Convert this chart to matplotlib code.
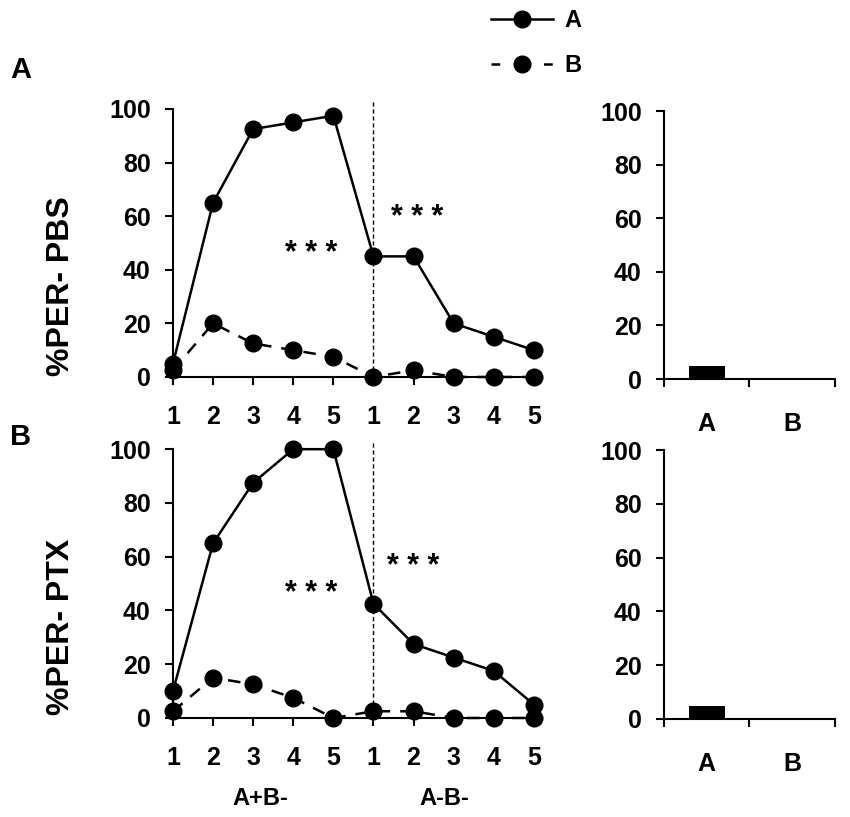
import matplotlib
matplotlib.use("Agg")
import matplotlib.pyplot as plt
from matplotlib.lines import Line2D

plt.rcParams['font.family'] = ['Liberation Sans', 'DejaVu Sans']
plt.rcParams['font.weight'] = 'bold'

# sessions: 5 trials A+B- then 5 trials A-B-
trial_labels = ['1', '2', '3', '4', '5', '1', '2', '3', '4', '5']
group_labels = ['A+B-', 'A-B-']

pbs_a = [5, 65, 92.5, 95, 97.5, 45, 45, 20, 15, 10]
pbs_b = [2.5, 20, 12.5, 10, 7.5, 0, 2.5, 0, 0, 0]
ptx_a = [10, 65, 87.5, 100, 100, 42.5, 27.5, 22.5, 17.5, 5]
ptx_b = [2.5, 15, 12.5, 7.5, 0, 2.5, 2.5, 0, 0, 0]

test_cats = ['A', 'B']
pbs_test = [5, 0]
ptx_test = [5, 0]

ylabels = ['%PER- PBS', '%PER- PTX']

fig = plt.figure(figsize=(8.5, 8.17), dpi=100)

ax_line = [fig.add_axes([0.2035, 0.5386, 0.434, 0.328]),
           fig.add_axes([0.2035, 0.1212, 0.434, 0.329])]
ax_bar = [fig.add_axes([0.781, 0.536, 0.201, 0.328]),
          fig.add_axes([0.781, 0.1200, 0.201, 0.329])]

xs = list(range(len(trial_labels)))
for ax, a, b, yl in zip(ax_line, [pbs_a, ptx_a], [pbs_b, ptx_b], ylabels):
    ax.plot(xs, a, color='black', lw=1.8, marker='o', ms=12, clip_on=False, zorder=3)
    ax.plot(xs, b, color='black', lw=1.8, marker='o', ms=12, clip_on=False,
            dashes=(5, 4), zorder=3)
    ax.axvline(5, ymin=0, ymax=1.03, color='black', lw=1, ls=(0, (3, 2)), clip_on=False)
    ax.set_xlim(0, 9.2)
    ax.set_ylim(0, 100)
    ax.set_xticks(xs)
    ax.set_xticklabels(trial_labels)
    ax.set_yticks([0, 20, 40, 60, 80, 100])
    for s in ['top', 'right']:
        ax.spines[s].set_visible(False)
    for s in ['left', 'bottom']:
        ax.spines[s].set_linewidth(1.5)
    ax.tick_params(labelsize=18, width=1.5, length=6)
    ax.tick_params(axis='x', pad=14)
    ax.tick_params(axis='y', pad=10)
    ax.set_ylabel(yl, fontsize=23, fontweight='bold')
    ax.yaxis.set_label_coords(-0.262, 0.34)

ax_line[0].text(3.45, 46, '* * *', fontsize=22, ha='center', va='center')
ax_line[0].text(6.1, 59.5, '* * *', fontsize=22, ha='center', va='center')
ax_line[1].text(3.45, 46, '* * *', fontsize=22, ha='center', va='center')
ax_line[1].text(6.0, 56, '* * *', fontsize=22, ha='center', va='center')

for x, g in zip([2.17, 6.78], group_labels):
    ax_line[1].text(x, -30, g, fontsize=17, fontweight='bold',
                    ha='center', va='center', clip_on=False)

for ax, vals in zip(ax_bar, [pbs_test, ptx_test]):
    ax.bar([0.5, 1.5], vals, width=0.42, color='black')
    ax.set_xlim(0, 2)
    ax.set_ylim(0, 100)
    ax.set_xticks([0, 1, 2])
    ax.set_xticklabels([])
    ax.set_xticks([0.5, 1.5], minor=True)
    ax.set_xticklabels(test_cats, minor=True)
    ax.tick_params(axis='x', which='minor', length=0, labelsize=18, pad=24)
    ax.tick_params(axis='x', which='major', length=6, width=1.5)
    ax.set_yticks([0, 20, 40, 60, 80, 100])
    ax.tick_params(axis='y', labelsize=18, width=1.5, length=6, pad=10)
    for s in ['top', 'right']:
        ax.spines[s].set_visible(False)
    for s in ['left', 'bottom']:
        ax.spines[s].set_linewidth(1.5)

fig.text(0.012, 0.9045, 'A', fontsize=21, fontweight='bold')
fig.text(0.012, 0.455, 'B', fontsize=21, fontweight='bold')

leg_a = Line2D([], [], color='black', lw=1.8, marker='o', ms=12)
leg_b = Line2D([], [], color='black', lw=1.8, marker='o', ms=12, dashes=(3.5, 17.5))
fig.legend([leg_a, leg_b], ['A', 'B'], loc='upper left', bbox_to_anchor=(0.553, 1.015),
           frameon=False, handlelength=2.6, labelspacing=0.95,
           handletextpad=0.5, prop={'weight': 'bold', 'size': 17})

fig.savefig('out.png', dpi=100)
